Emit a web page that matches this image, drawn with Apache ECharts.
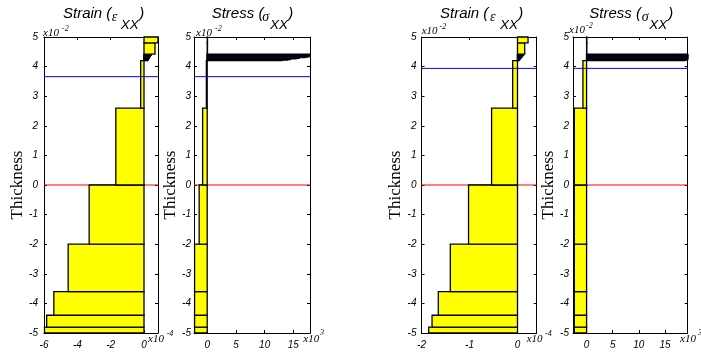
<!DOCTYPE html>
<html>
<head>
<meta charset="utf-8">
<script src="https://cdn.jsdelivr.net/npm/echarts@6/dist/echarts.min.js"></script>
<style>
html, body { margin: 0; padding: 0; background: #fff; }
#chart { width: 701px; height: 356px; }
</style>
</head>
<body>
<div id="chart"></div>
<script>
// ply boundaries through the thickness (x10^-2)
const plyBottom = [-5, -4.8, -4.4, -3.6, -2.0, 0, 2.6, 4.20, 4.22, 4.24, 4.26, 4.28, 4.30, 4.32, 4.34, 4.36, 4.38, 4.40, 4.42, 4.8];
const plyTop    = [-4.8, -4.4, -3.6, -2.0, 0, 2.6, 4.2, 4.22, 4.24, 4.26, 4.28, 4.30, 4.32, 4.34, 4.36, 4.38, 4.40, 4.42, 4.8, 5.0];

// left case: strain (x10^-4) and stress (x10^3) per ply
const strainA = [-5.97, -5.84, -5.41, -4.55, -3.29, -1.69, -0.2, 0.22, 0.24, 0.26, 0.28, 0.30, 0.32, 0.35, 0.37, 0.39, 0.42, 0.44, 0.66, 0.84];
const stressA = [-2.2, -2.2, -2.2, -2.2, -1.4, -0.8, -0.15, 13, 14, 14.5, 15.5, 16, 17, 17.5, 18.5, 20, 22, 24, 0.05, 0.05];
// right case
const strainB = [-1.85, -1.78, -1.65, -1.40, -1.02, -0.54, -0.1, 0.03, 0.04, 0.05, 0.06, 0.07, 0.08, 0.09, 0.10, 0.11, 0.12, 0.13, 0.15, 0.22];
const stressB = [-2.35, -2.35, -2.35, -2.35, -2.35, -2.35, -0.7, 18.8, 19.2, 20, 21, 22, 23, 24, 25, 26, 27, 28, 0.05, 0.05];

const thicknessTicks = [-5, -4, -3, -2, -1, 0, 1, 2, 3, 4, 5];
const strainTicksA = [-6, -4, -2, 0];
const strainTicksB = [-2, -1, 0];
const stressTicks = [0, 5, 10, 15];

const midplane = 0;
const neutralA = 3.66;
const neutralB = 3.94;

const panels = [
  { left: 44, width: 114, min: -6, max: 0.84, step: { interval: 2 }, ticks: strainTicksA, values: strainA, neutral: neutralA, yMargin: 6 },
  { left: 194, width: 116, min: -2.3, max: 17.9, step: { minInterval: 5, maxInterval: 5 }, ticks: stressTicks, values: stressA, neutral: neutralA, yMargin: 3 },
  { left: 421.5, width: 115.2, min: -2, max: 0.4, step: { interval: 1 }, ticks: strainTicksB, values: strainB, neutral: neutralB, yMargin: 5 },
  { left: 573, width: 114.7, min: -2.6, max: 19.35, step: { minInterval: 5, maxInterval: 5 }, ticks: stressTicks, values: stressB, neutral: neutralB, yMargin: 4 },
];

function plyRect(params, api) {
  const z0 = api.value(0), z1 = api.value(1), v = api.value(2);
  const a = api.coord([0, z1]);
  const b = api.coord([v, z0]);
  const shape = echarts.graphic.clipRectByRect({
    x: Math.min(a[0], b[0]),
    y: a[1],
    width: Math.abs(b[0] - a[0]),
    height: b[1] - a[1],
  }, params.coordSys);
  if (!shape) return null;
  return {
    type: 'rect',
    shape: shape,
    style: { fill: '#ffff00', stroke: '#000010', lineWidth: 1.3 },
  };
}

const labelStyle = { fontStyle: 'italic', fontSize: 10, fontFamily: 'Liberation Sans', color: '#000' };

const grid = [], xAxis = [], yAxis = [], series = [];
panels.forEach(function (p, i) {
  grid.push({ left: p.left, top: 37, width: p.width, height: 296 });
  const common = {
    type: 'value',
    gridIndex: i,
    splitLine: { show: false },
    axisLine: { onZero: false, lineStyle: { color: '#000', width: 1 } },
    axisTick: { inside: true, length: 3, lineStyle: { color: '#000' } },
  };
  const xBase = Object.assign({}, common, p.step, { min: p.min, max: p.max });
  xAxis.push(Object.assign({}, xBase, {
    position: 'bottom',
    axisLabel: Object.assign({}, labelStyle, {
      margin: 7,
      formatter: v => p.ticks.includes(v) ? String(v) : '',
    }),
  }));
  xAxis.push(Object.assign({}, xBase, { position: 'top', axisLabel: { show: false } }));

  const yBase = Object.assign({}, common, { min: -5, max: 5, interval: 1 });
  yAxis.push(Object.assign({}, yBase, {
    position: 'left',
    axisLabel: Object.assign({}, labelStyle, {
      margin: p.yMargin,
      formatter: v => thicknessTicks.includes(v) ? String(v) : '',
    }),
  }));
  yAxis.push(Object.assign({}, yBase, { position: 'right', axisLabel: { show: false } }));

  series.push({
    type: 'line', xAxisIndex: 2 * i, yAxisIndex: 2 * i, z: 1, silent: true,
    symbol: 'none', lineStyle: { color: '#ff0000', width: 1 },
    data: [[p.min, midplane], [p.max, midplane]],
  });
  series.push({
    type: 'custom', xAxisIndex: 2 * i, yAxisIndex: 2 * i, z: 2, silent: true,
    encode: { x: 2, y: [0, 1] },
    renderItem: plyRect,
    data: plyBottom.map((b, k) => [b, plyTop[k], p.values[k]]),
  });
  series.push({
    type: 'line', xAxisIndex: 2 * i, yAxisIndex: 2 * i, z: 3, silent: true,
    symbol: 'none', lineStyle: { color: '#0000ff', width: 1 },
    data: [[p.min, p.neutral], [p.max, p.neutral]],
  });
});

function txt(x, y, text, font, extra) {
  return Object.assign({
    type: 'text', x: x, y: y, silent: true,
    style: { text: text, font: font, fill: '#000', textAlign: 'left', textVerticalAlign: 'top' },
  }, extra || {});
}

const fTitle = 'italic 15px "Liberation Sans"';
const fSub = 'italic 13.5px "Liberation Sans"';
const fGreek = 'italic 14px "Liberation Serif"';
const fMul = 'italic 11px "Liberation Serif"';
const fSup = 'italic 8px "Liberation Serif"';
const fAxisName = '17px "Liberation Serif"';

const graphic = [];
// titles
[[63, 'Strain', '\u03b5', 111.7, 120.7, 139.3],
 [211.7, 'Stress', '\u03c3', 262.3, 270, 288.3],
 [440, 'Strain', '\u03b5', 490, 500, 518.3],
 [589.3, 'Stress', '\u03c3', 641.7, 649.3, 668.3]].forEach(function (t) {
  graphic.push(txt(t[0], 6.5, t[1] + ' (', fTitle));
  graphic.push(txt(t[3], 10.5, t[2], fGreek));
  graphic.push(txt(t[4], 18.5, 'XX', fSub));
  graphic.push(txt(t[5], 6.5, ')', fTitle));
});
// y axis names
[18, 171, 396, 548.5].forEach(function (x) {
  graphic.push({
    type: 'text', x: x, y: 185, rotation: Math.PI / 2, silent: true,
    style: { text: 'Thickness', font: fAxisName, fill: '#000', textAlign: 'center', textVerticalAlign: 'middle' },
  });
});
// multipliers
[[43, 28, 62, 25, '-2'], [196, 28, 215, 25, '-2'], [421.7, 26, 439.5, 23, '-2'], [569, 25, 586, 21.5, '-2'],
 [148, 334, 166.7, 330, '-4'], [303.3, 334, 320, 329, '3'], [526.7, 334, 545, 330, '-4'], [680, 334, 698, 329, '3']].forEach(function (m) {
  graphic.push(txt(m[0], m[1], 'x10', fMul));
  graphic.push(txt(m[2], m[3], m[4], fSup));
});

const chart = echarts.init(document.getElementById('chart'), null, { renderer: 'canvas' });
chart.setOption({
  animation: false,
  backgroundColor: '#fff',
  grid: grid,
  xAxis: xAxis,
  yAxis: yAxis,
  series: series,
  graphic: graphic,
});
</script>
</body>
</html>
